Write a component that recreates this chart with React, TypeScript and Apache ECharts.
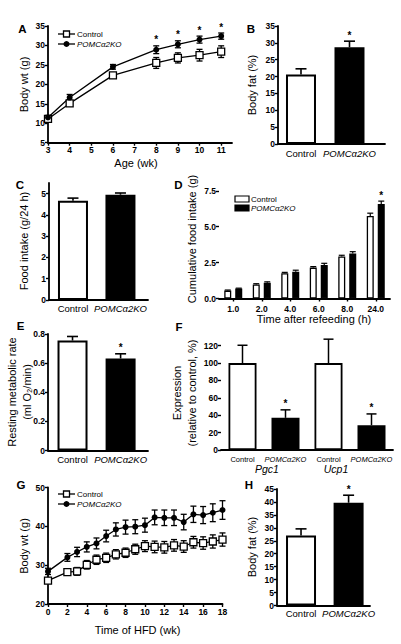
import React, { useEffect, useRef } from 'react';
import * as echarts from 'echarts';

const FONT = '"Liberation Sans", Arial, Helvetica, sans-serif';
const GROUPS = ['Control', 'POMCα2KO'];

// ---------- A: body weight vs age ----------
const ageWeeks = [3, 4, 6, 8, 9, 10, 11];
const ageControl = [11.1, 15.1, 22.3, 25.5, 26.8, 27.5, 28.4];
const ageControlErr = [0.5, 0.6, 0.7, 1.4, 1.3, 1.5, 1.5];
const ageKO = [11.5, 16.6, 24.5, 28.9, 30.3, 31.5, 32.4];
const ageKOErr = [0.5, 0.8, 0.6, 1.0, 0.9, 0.9, 0.8];
const ageKOStars = [0, 0, 0, 1, 1, 1, 1];
const ageTicks = [3, 4, 5, 6, 7, 8, 9, 10, 11];
const bodyWtTicksA = [5, 10, 15, 20, 25, 30, 35];

// ---------- B: body fat ----------
const fatB = [20.6, 28.7];
const fatBErr = [1.7, 1.8];
const fatBStars = [0, 1];
const fatBTicks = [0, 5, 10, 15, 20, 25, 30, 35];

// ---------- C: food intake ----------
const foodC = [4.67, 4.95];
const foodCErr = [0.12, 0.08];
const foodCTicks = [0, 1, 2, 3, 4, 5];

// ---------- D: cumulative food intake ----------
const refeedTimes = ['1.0', '2.0', '4.0', '6.0', '8.0', '24.0'];
const refeedControl = [0.55, 0.98, 1.76, 2.15, 2.93, 5.74];
const refeedControlErr = [0.04, 0.05, 0.06, 0.07, 0.08, 0.2];
const refeedKO = [0.69, 1.1, 1.87, 2.33, 3.14, 6.58];
const refeedKOErr = [0.03, 0.06, 0.1, 0.12, 0.12, 0.2];
const refeedKOStars = [0, 0, 0, 0, 0, 1];
const refeedTicks = [0, 2.5, 5, 7.5];

// ---------- E: resting metabolic rate ----------
const rmrE = [0.755, 0.632];
const rmrEErr = [0.028, 0.032];
const rmrEStars = [0, 1];
const rmrTicks = [0, 0.2, 0.4, 0.6, 0.8];

// ---------- F: expression ----------
const genes = ['Pgc1', 'Ucp1'];
const exprControl = [100, 100];
const exprControlErr = [20.5, 27.5];
const exprKO = [37, 28.5];
const exprKOErr = [9.2, 13];
const exprTicks = [0, 20, 40, 60, 80, 100, 120];

// ---------- G: body weight on HFD ----------
const hfdWeeks = [0, 2, 3, 4, 5, 6, 7, 8, 9, 10, 11, 12, 13, 14, 15, 16, 17, 18];
const hfdControl = [26.0, 28.2, 28.4, 30.1, 31.4, 31.9, 32.8, 33.2, 34.1, 34.9, 34.7, 34.6, 35.1, 34.8, 35.9, 35.7, 36.1, 36.6];
const hfdControlErr = [0.6, 0.8, 1.0, 1.1, 1.2, 1.2, 1.2, 1.2, 1.3, 1.4, 1.5, 1.5, 1.5, 1.5, 1.5, 1.6, 1.7, 1.7];
const hfdKO = [28.4, 32.0, 33.4, 34.7, 35.6, 37.5, 39.2, 39.8, 39.9, 40.3, 42.3, 42.2, 42.2, 41.1, 43.1, 42.9, 43.5, 44.2];
const hfdKOErr = [0.8, 1.0, 1.2, 1.3, 1.4, 1.5, 1.7, 1.8, 1.8, 1.8, 1.9, 2.0, 2.0, 2.0, 2.1, 2.2, 2.3, 2.4];
const hfdTicks = [0, 2, 4, 6, 8, 10, 12, 14, 16, 18];
const bodyWtTicksG = [20, 30, 40, 50];

// ---------- H: body fat on HFD ----------
const fatH = [27.0, 39.7];
const fatHErr = [2.6, 2.9];
const fatHStars = [0, 1];
const fatHTicks = [0, 5, 10, 15, 20, 25, 30, 35, 40, 45];

const axLine = { onZero: false, lineStyle: { color: '#000', width: 1.8 } };
const tickLbl = { color: '#000', fontFamily: FONT, fontSize: 8.5, fontWeight: 'bold' };

function valueAxis(gridIndex: number, min: number, max: number, ticks: number[], margin: number, fmt?: any) {
  return {
    type: 'value', gridIndex, min, max,
    axisLine: axLine,
    axisTick: { show: true, length: 3, customValues: ticks, lineStyle: { color: '#000', width: 1.4 } },
    axisLabel: { ...tickLbl, margin, customValues: ticks, formatter: fmt },
    splitLine: { show: false },
  };
}

function groupAxis(gridIndex: number, min: number, max: number, margin: number) {
  return {
    type: 'value', gridIndex, min, max,
    axisLine: axLine,
    axisTick: { show: false },
    splitLine: { show: false },
    axisLabel: {
      customValues: [0, 1], margin, color: '#000', fontFamily: FONT, fontSize: 9.5,
      formatter: (v: number) => (v === 1 ? '{i|' + GROUPS[1] + '}' : GROUPS[0]),
      rich: { i: { fontStyle: 'italic', fontSize: 9.5, fontFamily: FONT, color: '#000' } },
    },
  };
}

function errSeries(xi: number, xs: number[], ys: number[], errs: number[], stars: number[] | null,
  o: { both: boolean; cap: number; offset?: number; lw?: number }) {
  return {
    type: 'custom', xAxisIndex: xi, yAxisIndex: xi, z: o.both ? 3 : 6, silent: true,
    data: xs.map((x, i) => [x, ys[i], errs[i], stars ? stars[i] : 0]),
    renderItem: (params: any, api: any) => {
      const x = api.value(0), y = api.value(1), e = api.value(2), s = api.value(3);
      const top = api.coord([x, y + e]);
      const mid = api.coord([x, y]);
      const bot = api.coord([x, y - e]);
      const cx = top[0] + (o.offset || 0);
      const lw = o.lw || 1.3;
      const st = { stroke: '#000', lineWidth: lw };
      const y0 = o.both ? bot[1] : mid[1];
      const children: any[] = [
        { type: 'line', shape: { x1: cx, y1: y0, x2: cx, y2: top[1] }, style: st },
        { type: 'line', shape: { x1: cx - o.cap, y1: top[1], x2: cx + o.cap, y2: top[1] }, style: st },
      ];
      if (o.both) children.push({ type: 'line', shape: { x1: cx - o.cap, y1: bot[1], x2: cx + o.cap, y2: bot[1] }, style: st });
      if (s) children.push({
        type: 'text', x: cx, y: top[1] - 1,
        style: { text: '*', fill: '#000', fontFamily: FONT, fontSize: 10, fontWeight: 'bold', align: 'center', verticalAlign: 'bottom', textAlign: 'center', textVerticalAlign: 'bottom' },
      });
      return { type: 'group', children };
    },
  };
}

function groupBars(xi: number, vals: number[], bw: number) {
  return {
    type: 'bar', xAxisIndex: xi, yAxisIndex: xi, barWidth: bw, z: 4,
    data: vals.map((v, i) => ({ value: [i, v], itemStyle: { color: i ? '#000' : '#fff', borderColor: '#000', borderWidth: 2 } })),
  };
}

function txt(text: string, x: number, y: number, o: any = {}) {
  const align = o.align || 'center';
  return {
    type: 'text', x, y, rotation: o.rot ? Math.PI / 2 : 0, silent: true,
    style: {
      text, fill: '#000', fontFamily: FONT, fontSize: o.size || 11,
      fontWeight: o.bold ? 'bold' : 'normal', fontStyle: o.italic ? 'italic' : 'normal',
      align, verticalAlign: 'middle', textAlign: align, textVerticalAlign: 'middle',
    },
  };
}

function lineLegend(y1: number, y2: number) {
  return [
    { type: 'line', shape: { x1: 58, y1, x2: 75, y2: y1 }, style: { stroke: '#000', lineWidth: 1.3 } },
    { type: 'rect', shape: { x: 63.5, y: y1 - 3, width: 6, height: 6 }, style: { fill: '#fff', stroke: '#000', lineWidth: 1.3 } },
    txt(GROUPS[0], 77, y1, { size: 8, align: 'left' }),
    { type: 'line', shape: { x1: 58, y1: y2, x2: 75, y2: y2 }, style: { stroke: '#000', lineWidth: 1.3 } },
    { type: 'circle', shape: { cx: 66.5, cy: y2, r: 3 }, style: { fill: '#000' } },
    txt(GROUPS[1], 77, y2, { size: 8, align: 'left', italic: true }),
  ];
}

function buildOption() {
  const fCats = genes.flatMap((g) => GROUPS.map((gr) => g + ':' + gr));
  const fVals = genes.flatMap((g, i) => [exprControl[i], exprKO[i]]);
  const fErrs = genes.flatMap((g, i) => [exprControlErr[i], exprKOErr[i]]);
  const fStars = genes.flatMap(() => [0, 1]);

  const grids = [
    { left: 48, top: 26, width: 184, height: 116.7 }, // A
    { left: 278, top: 26, width: 107, height: 118 }, // B
    { left: 49, top: 183, width: 99, height: 117 }, // C
    { left: 219, top: 180, width: 171, height: 118.5 }, // D
    { left: 48, top: 334, width: 100, height: 116.5 }, // E
    { left: 221, top: 337, width: 172, height: 113 }, // F
    { left: 48, top: 487.5, width: 174.5, height: 116.5 }, // G
    { left: 277, top: 489, width: 93, height: 116.5 }, // H
  ].map((g) => ({ ...g, containLabel: false, outerBoundsMode: 'none' }));

  const xAxis: any[] = [
    valueAxis(0, 3, 11.5, ageTicks, 3),
    groupAxis(1, -0.474, 1.732, 4),
    groupAxis(2, -0.505, 1.58, 3),
    {
      type: 'category', gridIndex: 3, data: refeedTimes,
      axisLine: axLine,
      axisTick: { show: true, alignWithLabel: true, length: 3, lineStyle: { color: '#000', width: 1.4 } },
      axisLabel: { ...tickLbl, margin: 6 },
    },
    groupAxis(4, -0.51, 1.57, 3.5),
    {
      type: 'category', gridIndex: 5, data: fCats,
      axisLine: axLine, axisTick: { show: false },
      axisLabel: {
        margin: 5, color: '#000', fontFamily: FONT, fontSize: 7.5, interval: 0,
        formatter: (v: string) => {
          const gr = v.split(':')[1];
          return gr === GROUPS[1] ? '{i|' + gr + '}' : gr;
        },
        rich: { i: { fontStyle: 'italic', fontSize: 7.5, fontFamily: FONT, color: '#000' } },
      },
    },
    valueAxis(6, 0, 18, hfdTicks, 3),
    groupAxis(7, -0.505, 1.45, 3),
  ];

  const yAxis: any[] = [
    valueAxis(0, 5, 35, bodyWtTicksA, 3),
    valueAxis(1, 0, 35, fatBTicks, 3),
    valueAxis(2, 0, 5.5, foodCTicks, 3),
    valueAxis(3, 0, 8.25, refeedTicks, 3, (v: number) => v.toFixed(1)),
    valueAxis(4, 0, 0.8, rmrTicks, 3, (v: number) => (v === 0 ? '0' : v.toFixed(1))),
    valueAxis(5, 0, 130, exprTicks, 3),
    valueAxis(6, 20, 50, bodyWtTicksG, 3),
    valueAxis(7, 0, 45, fatHTicks, 3),
  ];

  const lineCtrl = (xi: number, xs: number[], ys: number[]) => ({
    type: 'line', xAxisIndex: xi, yAxisIndex: xi, z: 5, symbol: 'rect', symbolSize: 7,
    data: xs.map((x, i) => [x, ys[i]]),
    lineStyle: { color: '#000', width: 1.3 },
    itemStyle: { color: '#fff', borderColor: '#000', borderWidth: 1.3 },
  });
  const lineKO = (xi: number, xs: number[], ys: number[]) => ({
    type: 'line', xAxisIndex: xi, yAxisIndex: xi, z: 5, symbol: 'circle', symbolSize: 6,
    data: xs.map((x, i) => [x, ys[i]]),
    lineStyle: { color: '#000', width: 1.3 },
    itemStyle: { color: '#000', borderColor: '#000', borderWidth: 0 },
  });

  const series: any[] = [
    // A
    errSeries(0, ageWeeks, ageControl, ageControlErr, null, { both: true, cap: 3 }),
    errSeries(0, ageWeeks, ageKO, ageKOErr, ageKOStars, { both: true, cap: 3 }),
    lineCtrl(0, ageWeeks, ageControl),
    lineKO(0, ageWeeks, ageKO),
    // B
    groupBars(1, fatB, 30),
    errSeries(1, [0, 1], fatB, fatBErr, fatBStars, { both: false, cap: 5.5, lw: 1.6 }),
    // C
    groupBars(2, foodC, 30),
    errSeries(2, [0, 1], foodC, foodCErr, null, { both: false, cap: 5.5, lw: 1.6 }),
    // D
    {
      type: 'bar', xAxisIndex: 3, yAxisIndex: 3, barWidth: 7, barGap: '57%', z: 4,
      data: refeedControl, itemStyle: { color: '#fff', borderColor: '#000', borderWidth: 1.3 },
    },
    {
      type: 'bar', xAxisIndex: 3, yAxisIndex: 3, barWidth: 7, barGap: '57%', z: 4,
      data: refeedKO, itemStyle: { color: '#000', borderColor: '#000', borderWidth: 1.3 },
    },
    errSeries(3, refeedTimes.map((t, i) => i), refeedControl, refeedControlErr, null, { both: false, cap: 3, offset: -5.5, lw: 1.2 }),
    errSeries(3, refeedTimes.map((t, i) => i), refeedKO, refeedKOErr, refeedKOStars, { both: false, cap: 3, offset: 5.5, lw: 1.2 }),
    // E
    groupBars(4, rmrE, 30),
    errSeries(4, [0, 1], rmrE, rmrEErr, rmrEStars, { both: false, cap: 5.5, lw: 1.6 }),
    // F
    {
      type: 'bar', xAxisIndex: 5, yAxisIndex: 5, barWidth: 28, z: 4,
      data: fVals.map((v, i) => ({ value: v, itemStyle: { color: i % 2 ? '#000' : '#fff', borderColor: '#000', borderWidth: 1.8 } })),
    },
    errSeries(5, fCats.map((c, i) => i), fVals, fErrs, fStars, { both: false, cap: 5, lw: 1.5 }),
    // G
    errSeries(6, hfdWeeks, hfdControl, hfdControlErr, null, { both: true, cap: 3 }),
    errSeries(6, hfdWeeks, hfdKO, hfdKOErr, null, { both: true, cap: 3 }),
    lineCtrl(6, hfdWeeks, hfdControl),
    lineKO(6, hfdWeeks, hfdKO),
    // H
    groupBars(7, fatH, 30),
    errSeries(7, [0, 1], fatH, fatHErr, fatHStars, { both: false, cap: 5.5, lw: 1.6 }),
  ];

  const graphic: any[] = [
    // panel letters
    txt('A', 22.5, 28.7, { bold: true, size: 11.5 }),
    txt('B', 251, 28.7, { bold: true, size: 11.5 }),
    txt('C', 20, 185.3, { bold: true, size: 11.5 }),
    txt('D', 178.5, 185, { bold: true, size: 11.5 }),
    txt('E', 20.7, 325.5, { bold: true, size: 11.5 }),
    txt('F', 179, 326.5, { bold: true, size: 11.5 }),
    txt('G', 21, 485.3, { bold: true, size: 11.5 }),
    txt('H', 249, 484.7, { bold: true, size: 11.5 }),
    // axis titles
    txt('Body wt (g)', 24, 84.5, { rot: true }),
    txt('Age (wk)', 136, 163),
    txt('Body fat (%)', 252, 85, { rot: true }),
    txt('Food intake (g/24 h)', 24, 241, { rot: true }),
    txt('Cumulative food intake (g)', 192, 239, { rot: true }),
    txt('Time after refeeding (h)', 314, 319),
    txt('Resting metabolic rate', 12, 392, { rot: true }),
    txt('(ml O₂/min)', 27, 392, { rot: true }),
    txt('Expression', 177, 393, { rot: true }),
    txt('(relative to control, %)', 192, 393, { rot: true }),
    txt('Body wt (g)', 24, 546, { rot: true }),
    txt('Time of HFD (wk)', 137.5, 630),
    txt('Body fat (%)', 252, 547, { rot: true }),
    // F gene labels
    txt(genes[0], 267, 469, { italic: true, size: 10.5 }),
    txt(genes[1], 336, 469, { italic: true, size: 10.5 }),
    // legends
    ...lineLegend(34, 44),
    ...lineLegend(494, 504),
    { type: 'rect', shape: { x: 235, y: 196, width: 14, height: 6 }, style: { fill: '#fff', stroke: '#000', lineWidth: 1.2 } },
    txt(GROUPS[0], 251, 199, { size: 8, align: 'left' }),
    { type: 'rect', shape: { x: 235, y: 205, width: 14, height: 6 }, style: { fill: '#000', stroke: '#000', lineWidth: 1.2 } },
    txt(GROUPS[1], 251, 208, { size: 8, align: 'left', italic: true }),
  ];

  return {
    animation: false,
    backgroundColor: '#fff',
    textStyle: { fontFamily: FONT, color: '#000' },
    grid: grids,
    xAxis,
    yAxis,
    series,
    graphic,
  };
}

export default function App() {
  const ref = useRef<HTMLDivElement>(null);
  useEffect(() => {
    document.body.style.margin = '0';
    const chart = echarts.init(ref.current as HTMLDivElement, null, { renderer: 'svg' });
    chart.setOption(buildOption() as any);
    return () => chart.dispose();
  }, []);
  return (
    <div
      ref={ref}
      style={{ position: 'absolute', left: 0, top: 0, width: 401, height: 644, background: '#fff' }}
    />
  );
}
